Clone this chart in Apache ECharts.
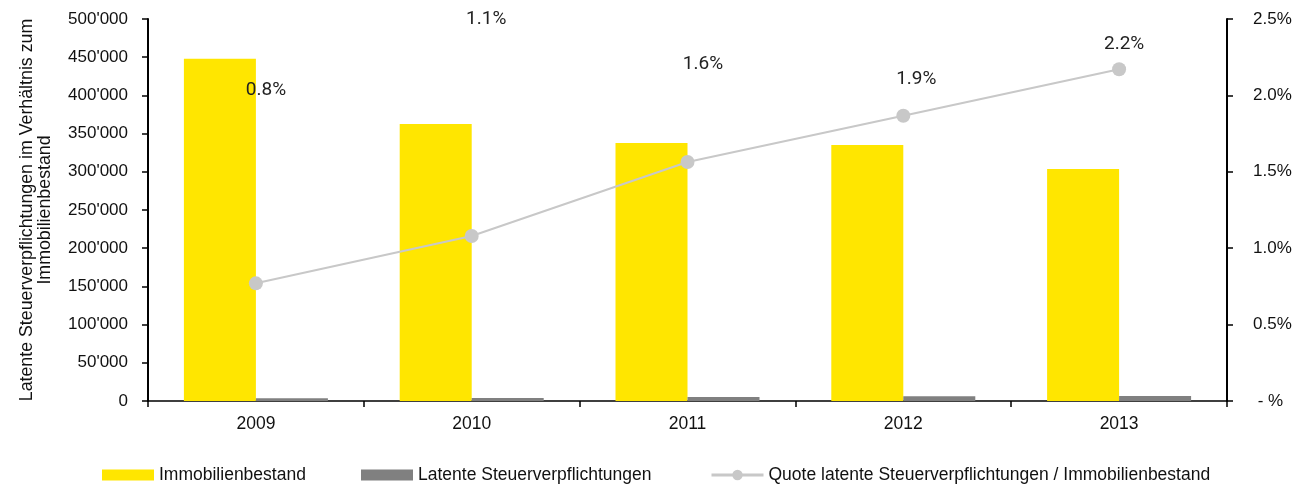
<!DOCTYPE html>
<html>
<head>
<meta charset="utf-8">
<script src="https://cdn.jsdelivr.net/npm/echarts@6/dist/echarts.min.js"></script>
<style>html,body{margin:0;padding:0;background:#fff}#c{width:1315px;height:489px}</style>
</head>
<body>
<div id="c"></div>
<script>
const categories = ['2009', '2010', '2011', '2012', '2013'];
const immobilienbestand = [448000, 362600, 337700, 335100, 303700];
const latenteSteuern = [3450, 3900, 5280, 6250, 6600];
const quote = [0.77, 1.08, 1.564, 1.867, 2.171];
const leftTicks = [0, 50000, 100000, 150000, 200000, 250000, 300000, 350000, 400000, 450000, 500000];
const rightTicks = [0, 0.5, 1.0, 1.5, 2.0, 2.5];

const FONT = "'Liberation Sans', Arial, sans-serif";
const labelOffsets = [[10, -193], [14.5, -217], [15.5, -97.5], [13, -36.5], [5, -25]];

function fmtThousands(v) {
  return String(Math.round(v)).replace(/\B(?=(\d{3})+(?!\d))/g, "'");
}

const chart = echarts.init(document.getElementById('c'), null, { renderer: 'canvas' });
const legendBase = {
  itemWidth: 52, itemHeight: 11, top: 461, itemGap: 0,
  textStyle: { fontFamily: FONT, fontSize: 17.5, color: '#111' }
};
chart.setOption({
  animation: false,
  grid: { left: 148, right: 88, top: 19, bottom: 88, containLabel: false, outerBoundsMode: 'none' },
  legend: [
    Object.assign({}, legendBase, { left: 97, data: [{ name: 'Immobilienbestand', icon: 'rect' }] }),
    Object.assign({}, legendBase, { left: 356, data: [{ name: 'Latente Steuerverpflichtungen', icon: 'rect' }] }),
    Object.assign({}, legendBase, { left: 705, itemHeight: 13, top: 461,
      lineStyle: { width: 3 },
      data: ['Quote latente Steuerverpflichtungen / Immobilienbestand'] })
  ],
  xAxis: {
    type: 'category',
    data: categories,
    axisLine: { lineStyle: { color: '#000', width: 1.5 } },
    axisTick: { show: true, length: 6, lineStyle: { color: '#000', width: 1.5 } },
    axisLabel: { margin: 14, fontFamily: FONT, fontSize: 17.5, color: '#111' }
  },
  yAxis: [
    {
      type: 'value', min: 0, max: 500000, interval: 50000,
      name: 'Latente Steuerverpflichtungen im Verhältnis zum\nImmobilienbestand',
      nameLocation: 'middle', nameGap: 94,
      nameTextStyle: { fontFamily: FONT, fontSize: 17.8, color: '#111', lineHeight: 18 },
      axisLine: { show: true, lineStyle: { color: '#000', width: 2 } },
      axisTick: { show: true, length: 6, lineStyle: { color: '#000', width: 1.5 } },
      splitLine: { show: false },
      axisLabel: {
        margin: 20, fontFamily: FONT, fontSize: 17, color: '#111',
        formatter: v => leftTicks.includes(v) ? fmtThousands(v) : ''
      }
    },
    {
      type: 'value', min: 0, max: 2.5, interval: 0.5, position: 'right',
      axisLine: { show: true, lineStyle: { color: '#000', width: 2 } },
      axisTick: { show: true, length: 6, lineStyle: { color: '#000', width: 1.5 } },
      splitLine: { show: false },
      axisLabel: {
        margin: 26, fontFamily: FONT, fontSize: 17, color: '#111',
        formatter: v => {
          const t = rightTicks.find(r => Math.abs(r - v) < 1e-9);
          if (t === undefined) return '';
          return t === 0 ? ' - %' : t.toFixed(1) + '%';
        }
      }
    }
  ],
  series: [
    {
      name: 'Immobilienbestand', type: 'bar', yAxisIndex: 0,
      data: immobilienbestand, barWidth: 72, barGap: '0%',
      itemStyle: { color: '#FFE600' }
    },
    {
      name: 'Latente Steuerverpflichtungen', type: 'bar', yAxisIndex: 0,
      data: latenteSteuern, barWidth: 72, barGap: '0%',
      itemStyle: { color: '#808080' }
    },
    {
      name: 'Quote latente Steuerverpflichtungen / Immobilienbestand', type: 'line', yAxisIndex: 1,
      data: quote.map((v, i) => ({
        value: v,
        label: { offset: labelOffsets[i] }
      })),
      symbol: 'circle', symbolSize: 14,
      lineStyle: { color: '#c8c8c8', width: 2 },
      itemStyle: { color: '#c8c8c8' },
      label: {
        show: true, position: 'inside',
        fontFamily: 'Roboto, sans-serif', fontSize: 19, color: '#222',
        formatter: p => p.value.toFixed(1) + '%'
      },
      z: 5
    }
  ]
});
</script>
</body>
</html>
